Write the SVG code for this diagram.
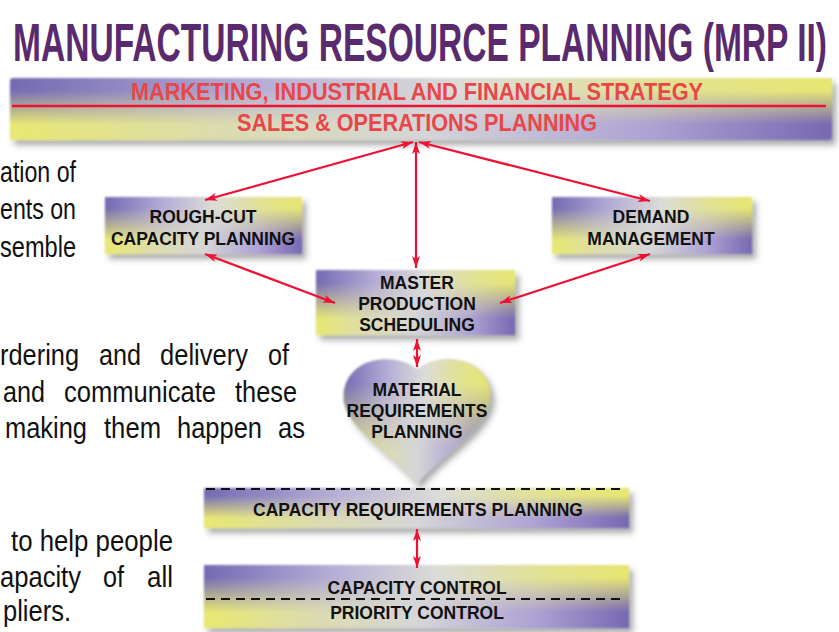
<svg xmlns="http://www.w3.org/2000/svg" width="839" height="632" viewBox="0 0 839 632">
  <defs>
    <style>
      .title { font-family: "Liberation Sans", Arial, sans-serif; font-weight: bold; font-size: 54px; fill: #5a2a6e; }
      .strat { font-family: "Liberation Sans", Arial, sans-serif; font-weight: bold; font-size: 24px; fill: #e8474a; text-anchor: middle; }
      .lbl { font-family: "Liberation Sans", Arial, sans-serif; font-weight: bold; font-size: 17.5px; fill: #111; text-anchor: middle; }
      .body { font-family: "Liberation Sans", Arial, sans-serif; font-size: 30px; fill: #111; }
      .link { stroke: #ee1133; stroke-width: 2.2; fill: none; marker-start: url(#ah); marker-end: url(#ah); }
      .dash { stroke: #111; stroke-width: 2; stroke-dasharray: 9 6; fill: none; }
      .rule { stroke: #ee1133; stroke-width: 2.5; }
    </style>
    <!-- upper half: violet on the left fading to yellow on the right -->
    <linearGradient id="gTop" x1="0" y1="0" x2="1" y2="0">
      <stop offset="0" stop-color="#736ab2"/>
      <stop offset="0.3" stop-color="#b5add6"/>
      <stop offset="0.55" stop-color="#dcdcd8"/>
      <stop offset="0.8" stop-color="#e2e292"/>
      <stop offset="1" stop-color="#e6e672"/>
    </linearGradient>
    <!-- lower half: yellow on the left fading to violet on the right -->
    <linearGradient id="gBot" x1="0" y1="0" x2="1" y2="0">
      <stop offset="0" stop-color="#e8e872"/>
      <stop offset="0.25" stop-color="#dcdcae"/>
      <stop offset="0.5" stop-color="#d6d6d8"/>
      <stop offset="0.78" stop-color="#ada2d3"/>
      <stop offset="1" stop-color="#7668b2"/>
    </linearGradient>
    <linearGradient id="gFade" x1="0" y1="0" x2="0" y2="1">
      <stop offset="0.2" stop-color="#fff"/>
      <stop offset="0.75" stop-color="#000"/>
    </linearGradient>
    <mask id="mTop" maskContentUnits="objectBoundingBox">
      <rect width="1" height="1" fill="url(#gFade)"/>
    </mask>
    <filter id="soft" x="-6%" y="-20%" width="118%" height="160%">
      <feGaussianBlur in="SourceAlpha" stdDeviation="3" result="b"/>
      <feOffset in="b" dx="4" dy="5" result="o"/>
      <feFlood flood-color="#555" flood-opacity="0.5"/>
      <feComposite in2="o" operator="in" result="sh"/>
      <feGaussianBlur in="SourceGraphic" stdDeviation="0.9" result="s"/>
      <feMerge><feMergeNode in="sh"/><feMergeNode in="s"/></feMerge>
    </filter>
    <marker id="ah" viewBox="0 0 12 8" refX="12" refY="4" markerWidth="13" markerHeight="8" markerUnits="userSpaceOnUse" orient="auto-start-reverse">
      <path d="M0,0 L12,4 L0,8 L3,4 Z" fill="#ee1133"/>
    </marker>
    <rect id="bannerShape" x="10" y="78" width="822" height="62" rx="3"/>
    <path id="heartShape" d="M417,370 C402,354 352,352 344,390 C337,424 392,452 417,484 C442,452 497,424 490,390 C482,352 432,354 417,370 Z"/>
  </defs>

  <text id="title" class="title" x="13" y="61" textLength="814" lengthAdjust="spacingAndGlyphs">MANUFACTURING RESOURCE PLANNING (MRP II)</text>

  <!-- explanatory paragraph fragments, left side -->
  <g id="body-text" class="body">
    <text x="0" y="182" textLength="76" lengthAdjust="spacingAndGlyphs">ation of</text>
    <text x="0" y="219" textLength="76" lengthAdjust="spacingAndGlyphs">ents on</text>
    <text x="0" y="257" textLength="76" lengthAdjust="spacingAndGlyphs">semble</text>

    <text x="0" y="365" textLength="79" lengthAdjust="spacingAndGlyphs">rdering</text>
    <text x="99" y="365" textLength="42" lengthAdjust="spacingAndGlyphs">and</text>
    <text x="160" y="365" textLength="88" lengthAdjust="spacingAndGlyphs">delivery</text>
    <text x="268" y="365" textLength="21" lengthAdjust="spacingAndGlyphs">of</text>
    <text x="3" y="402" textLength="42" lengthAdjust="spacingAndGlyphs">and</text>
    <text x="64" y="402" textLength="152" lengthAdjust="spacingAndGlyphs">communicate</text>
    <text x="235" y="402" textLength="62" lengthAdjust="spacingAndGlyphs">these</text>
    <text x="5" y="438" textLength="82" lengthAdjust="spacingAndGlyphs">making</text>
    <text x="104" y="438" textLength="57" lengthAdjust="spacingAndGlyphs">them</text>
    <text x="177" y="438" textLength="85" lengthAdjust="spacingAndGlyphs">happen</text>
    <text x="278" y="438" textLength="27" lengthAdjust="spacingAndGlyphs">as</text>

    <text x="11" y="551" textLength="162" lengthAdjust="spacingAndGlyphs">to help people</text>
    <text x="0" y="587" textLength="81" lengthAdjust="spacingAndGlyphs">apacity</text>
    <text x="103" y="587" textLength="21" lengthAdjust="spacingAndGlyphs">of</text>
    <text x="147" y="587" textLength="26" lengthAdjust="spacingAndGlyphs">all</text>
    <text x="3" y="621" textLength="68" lengthAdjust="spacingAndGlyphs">pliers.</text>
  </g>

  <g id="strategy-banner">
    <g filter="url(#soft)">
      <use href="#bannerShape" fill="url(#gBot)"/>
      <use href="#bannerShape" fill="url(#gTop)" mask="url(#mTop)"/>
    </g>
    <line class="rule" x1="12" y1="106" x2="826" y2="106"/>
    <text class="strat" x="417" y="100" textLength="572" lengthAdjust="spacingAndGlyphs">MARKETING, INDUSTRIAL AND FINANCIAL STRATEGY</text>
    <text class="strat" x="417" y="131" textLength="360" lengthAdjust="spacingAndGlyphs">SALES &amp; OPERATIONS PLANNING</text>
  </g>

  <g id="rough-cut-capacity-planning">
    <g filter="url(#soft)">
      <rect x="105" y="197" width="197" height="57" fill="url(#gBot)"/>
      <rect x="105" y="197" width="197" height="57" fill="url(#gTop)" mask="url(#mTop)"/>
    </g>
    <text class="lbl" x="203" y="223">ROUGH-CUT</text>
    <text class="lbl" x="203" y="245">CAPACITY PLANNING</text>
  </g>

  <g id="demand-management">
    <g filter="url(#soft)">
      <rect x="552" y="197" width="200" height="57" fill="url(#gBot)"/>
      <rect x="552" y="197" width="200" height="57" fill="url(#gTop)" mask="url(#mTop)"/>
    </g>
    <text class="lbl" x="651" y="223">DEMAND</text>
    <text class="lbl" x="651" y="245">MANAGEMENT</text>
  </g>

  <g id="master-production-scheduling">
    <g filter="url(#soft)">
      <rect x="316" y="270" width="199" height="65" fill="url(#gBot)"/>
      <rect x="316" y="270" width="199" height="65" fill="url(#gTop)" mask="url(#mTop)"/>
    </g>
    <text class="lbl" x="417" y="289">MASTER</text>
    <text class="lbl" x="417" y="310">PRODUCTION</text>
    <text class="lbl" x="417" y="331">SCHEDULING</text>
  </g>

  <g id="material-requirements-planning">
    <g filter="url(#soft)">
      <use href="#heartShape" fill="url(#gBot)"/>
      <use href="#heartShape" fill="url(#gTop)" mask="url(#mTop)"/>
    </g>
    <text class="lbl" x="417" y="396">MATERIAL</text>
    <text class="lbl" x="417" y="417">REQUIREMENTS</text>
    <text class="lbl" x="417" y="438">PLANNING</text>
  </g>

  <g id="capacity-requirements-planning">
    <g filter="url(#soft)">
      <rect x="204" y="488" width="425" height="40" fill="url(#gBot)"/>
      <rect x="204" y="488" width="425" height="40" fill="url(#gTop)" mask="url(#mTop)"/>
    </g>
    <line class="dash" x1="206" y1="489" x2="626" y2="489"/>
    <text class="lbl" x="418" y="516">CAPACITY REQUIREMENTS PLANNING</text>
  </g>

  <g id="capacity-priority-control">
    <g filter="url(#soft)">
      <rect x="204" y="565" width="425" height="63" fill="url(#gBot)"/>
      <rect x="204" y="565" width="425" height="63" fill="url(#gTop)" mask="url(#mTop)"/>
    </g>
    <line class="dash" x1="206" y1="599" x2="626" y2="599"/>
    <text class="lbl" x="417" y="594">CAPACITY CONTROL</text>
    <text class="lbl" x="417" y="619">PRIORITY CONTROL</text>
  </g>

  <g id="connectors">
    <line class="link" x1="413" y1="142" x2="205" y2="200"/>
    <line class="link" x1="416" y1="142" x2="416" y2="268"/>
    <line class="link" x1="419" y1="142" x2="650" y2="201"/>
    <line class="link" x1="205" y1="254" x2="335" y2="303"/>
    <line class="link" x1="650" y1="254" x2="500" y2="303"/>
    <line class="link" x1="417" y1="339" x2="417" y2="367"/>
    <line class="link" x1="417" y1="529" x2="417" y2="568"/>
  </g>
</svg>
